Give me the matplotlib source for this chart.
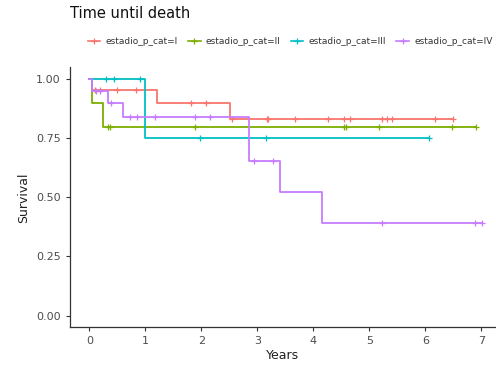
import matplotlib
matplotlib.use("Agg")
import matplotlib.pyplot as plt
import numpy as np
from matplotlib.lines import Line2D

# Kaplan-Meier curves
groups = ["estadio_p_cat=I", "estadio_p_cat=II", "estadio_p_cat=III", "estadio_p_cat=IV"]
colors = ["#F8766D", "#7CAE00", "#00BFC4", "#C77CFF"]

times_I = [0, 0.05, 1.21, 2.52]
surv_I = [1.0, 0.952, 0.897, 0.831]
cens_I = [0.10, 0.19, 0.49, 0.83, 1.81, 2.09, 2.54, 3.17, 3.19, 3.67, 4.26,
          4.54, 4.66, 5.22, 5.31, 5.41, 6.18, 6.49]

times_II = [0, 0.04, 0.24]
surv_II = [1.0, 0.897, 0.798]
cens_II = [0.34, 0.37, 1.89, 4.54, 4.59, 5.17, 6.48, 6.91]

times_III = [0, 0.99]
surv_III = [1.0, 0.75]
cens_III = [0.30, 0.45, 0.90, 1.98, 3.15, 6.06]

times_IV = [0, 0.05, 0.33, 0.60, 2.85, 3.41, 4.16]
surv_IV = [1.0, 0.95, 0.897, 0.84, 0.653, 0.522, 0.392]
cens_IV = [0.12, 0.20, 0.39, 0.73, 0.86, 1.17, 1.89, 2.15, 2.94, 3.28,
           5.22, 6.88, 7.01]

curves = [(times_I, surv_I, cens_I), (times_II, surv_II, cens_II),
          (times_III, surv_III, cens_III), (times_IV, surv_IV, cens_IV)]

fig = plt.figure(figsize=(4.96, 3.65), dpi=100)
ax = fig.add_axes([0.141, 0.103, 0.859, 0.713])

for (t, s, c), col in zip(curves, colors):
    t_end = max(c[-1], t[-1])
    tt = np.array(t + [t_end])
    ss = np.array(s + [s[-1]])
    ax.step(tt, ss, where="post", color=col, lw=1.3)
    idx = np.searchsorted(np.array(t), np.array(c), side="right") - 1
    ax.plot(c, np.array(s)[idx], ls="none", marker="+", ms=5, mew=0.9, color=col)

ax.set_xlim(-0.345, 7.26)
ax.set_ylim(-0.05, 1.05)
ax.set_xticks(range(8))
ax.set_yticks([0, 0.25, 0.5, 0.75, 1.0])
ax.set_yticklabels(["0.00", "0.25", "0.50", "0.75", "1.00"])
for sp in ["top", "right"]:
    ax.spines[sp].set_visible(False)
for sp in ["left", "bottom"]:
    ax.spines[sp].set_color("#333333")
    ax.spines[sp].set_linewidth(0.9)
ax.tick_params(colors="#333333", labelcolor="#4d4d4d", labelsize=8, length=3, width=0.8)
ax.set_xlabel("Years", fontsize=9, color="#222222", labelpad=2)
ax.set_ylabel("Survival", fontsize=9, color="#222222", labelpad=4)

fig.text(0.141, 0.963, "Time until death", fontsize=10.5, color="#111111", va="center", ha="left")

handles = [Line2D([0], [0], color=col, lw=1.2, marker="+", ms=5, mew=0.9) for col in colors]
fig.legend(handles, groups, loc="center", bbox_to_anchor=(0.585, 0.885), ncol=4,
           frameon=False, fontsize=6.5, handlelength=1.4, handletextpad=0.6,
           columnspacing=1.1, labelcolor="#333333")

fig.savefig("out.png", dpi=100)
